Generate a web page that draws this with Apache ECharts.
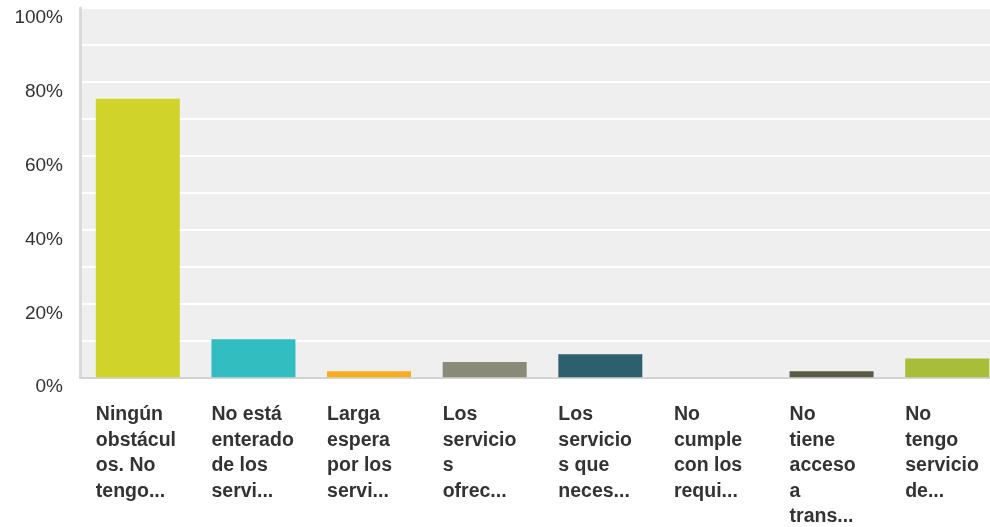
<!DOCTYPE html>
<html><head><meta charset="utf-8">
<script src="https://cdn.jsdelivr.net/npm/echarts@6/dist/echarts.min.js"></script>
<style>html,body{margin:0;padding:0;background:#fff;overflow:hidden;width:990px;height:527px}#c{width:1005px;height:527px}</style>
</head><body><div id="c"></div>
<script>
const categories = [
  "Ningún\nobstácul\nos. No\ntengo...",
  "No está\nenterado\nde los\nservi...",
  "Larga\nespera\npor los\nservi...",
  "Los\nservicio\ns\nofrec...",
  "Los\nservicio\ns que\nneces...",
  "No\ncumple\ncon los\nrequi...",
  "No\ntiene\nacceso\na\ntrans...",
  "No\ntengo\nservicio\nde..."
];
const values = [75.4, 10.3, 1.6, 4.1, 6.2, 0, 1.6, 5.1];
const colors = ["#d0d42a", "#32bdc0", "#f7ad1e", "#8a8a78", "#2e5f6c", "#6a6a6a", "#5b5a48", "#a9be38"];
const yTicks = [0, 20, 40, 60, 80, 100];

const chart = echarts.init(document.getElementById('c'), null, {renderer: 'canvas'});
const font = "'Liberation Sans', Arial, Helvetica, sans-serif";
chart.setOption({
  animation: false,
  backgroundColor: '#ffffff',
  grid: {left: 80, top: 8, right: 0, height: 371, show: true, backgroundColor: '#efefef', borderWidth: 0},
  xAxis: {
    type: 'category',
    data: categories,
    axisTick: {show: false},
    axisLine: {show: true, lineStyle: {color: '#d3d3d3', width: 2}},
    axisLabel: {
      interval: 0,
      margin: 25,
      align: 'center',
      width: 84,
      formatter: v => v.split('\n').map(l => '{a|' + l + '}').join('\n'),
      rich: {
        a: {align: 'left', width: 84, fontFamily: font, fontSize: 19.5, fontWeight: 'bold', color: '#333333', lineHeight: 25.5}
      }
    }
  },
  yAxis: {
    type: 'value',
    min: 0, max: 100, interval: 10,
    axisLine: {show: true, lineStyle: {color: '#d9d9d9', width: 3}},
    axisTick: {show: false},
    splitLine: {show: true, lineStyle: {color: '#ffffff', width: 2}},
    axisLabel: {
      margin: 17,
      fontFamily: font, fontSize: 19, color: '#333333',
      verticalAlign: 'top',
      lineHeight: 20,
      formatter: v => yTicks.includes(v) ? v + '%' : ''
    }
  },
  series: [{
    type: 'bar',
    data: values.map((v, i) => ({value: v, itemStyle: {color: colors[i]}})),
    barWidth: 84
  }]
});
</script></body></html>
